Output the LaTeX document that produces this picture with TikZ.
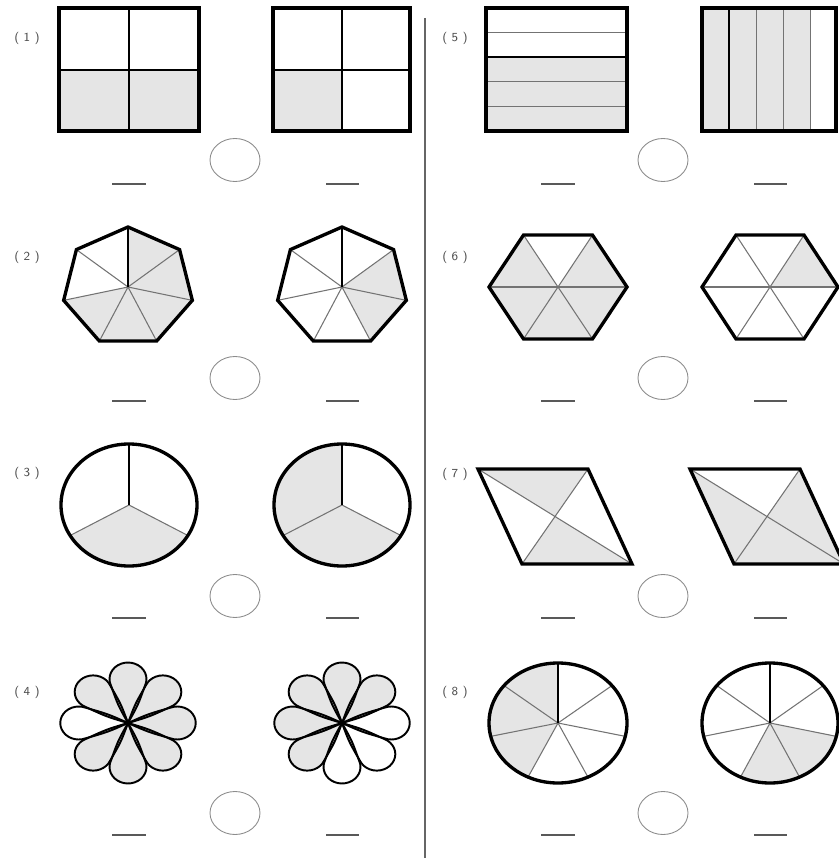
\documentclass[tikz,border=0pt]{standalone}
\usetikzlibrary{shapes.geometric}

% polygon cut into sectors: [first spoke]{cx}{cy}{rx}{ry}{sides}{start angle}{shaded sectors}
\newcommand{\polyfig}[8][spoke]{%
  \begin{scope}[shift={(#2,#3)}]
    \foreach \k in {#8}
      \fill[part] (0,0) -- ({#7-\k*360/#6}:#4 and #5) -- ({#7-(\k+1)*360/#6}:#4 and #5) -- cycle;
    \foreach \k in {1,...,#6}
      \draw[spoke] (0,0) -- ({#7-\k*360/#6}:#4 and #5);
    \draw[#1] (0,0) -- (#7:#4 and #5);
    \pgfmathtruncatemacro\lastk{#6-1}
    \draw[rim] (#7:#4 and #5) \foreach \k in {1,...,\lastk} { -- ({#7-\k*360/#6}:#4 and #5)} -- cycle;
  \end{scope}}

% oval cut into sectors: {cx}{cy}{rx}{ry}{parts}{shaded sectors}
\newcommand{\ovalfig}[6]{%
  \begin{scope}[shift={(#1,#2)}]
    \foreach \k in {#6}
      \fill[part] (0,0) -- ({90-\k*360/#5}:#3 and #4)
        arc[start angle={90-\k*360/#5}, delta angle={-360/#5}, x radius=#3, y radius=#4] -- cycle;
    \foreach \k in {1,...,#5}
      \draw[spoke] (0,0) -- ({90-\k*360/#5}:#3 and #4);
    \draw[mainspoke] (0,0) -- (90:#3 and #4);
    \draw[rim] (0,0) ellipse[x radius=#3, y radius=#4];
  \end{scope}}

% one petal pointing right, round end of radius 16.5
\newcommand{\petalpath}{(0,0) .. controls (18,9) .. (37.8,15.3) arc[start angle=112, end angle=-112, radius=16.5] .. controls (18,-9) .. (0,0) -- cycle}

% flower of eight petals: {cx}{cy}{shaded petal angles}
\newcommand{\flowerfig}[3]{%
  \begin{scope}[shift={(#1,#2)},xscale=1.12]
    \foreach \a in {#3}
      \fill[part,rotate=\a] \petalpath;
    \foreach \a in {0,45,...,315}
      \draw[petal,rotate=\a] \petalpath;
  \end{scope}}

\begin{document}
\begin{tikzpicture}[x=0.02cm,y=0.02cm,
  rim/.style={line width=1.9pt,line join=miter},
  part/.style={fill=black!10},
  spoke/.style={draw=black!55,line width=0.6pt},
  mainspoke/.style={draw=black,line width=1.1pt},
  petal/.style={draw=black,line width=1.1pt},
  answer/.style={draw=black!45,line width=0.5pt,ellipse,minimum width=1cm,minimum height=0.86cm,inner sep=0pt},
  blank/.style={draw=black!65,line width=1pt},
  num/.style={text=black!70,font=\fontsize{7}{8}\selectfont\sffamily,inner sep=0pt}]
  \useasboundingbox (0,0) rectangle (838,-858);
  \draw[black!60,line width=0.6pt] (425,-18) -- (425,-858);

  % question numbers
  \node[num] (lab1) at (27,-38) {( 1 )};
  \node[num] (lab2) at (27,-257) {( 2 )};
  \node[num] (lab3) at (27,-473) {( 3 )};
  \node[num] (lab4) at (27,-692) {( 4 )};
  \node[num] (lab5) at (455,-38) {( 5 )};
  \node[num] (lab6) at (455,-257) {( 6 )};
  \node[num] (lab7) at (455,-474) {( 7 )};
  \node[num] (lab8) at (455,-692) {( 8 )};

  % (1) squares
  \fill[part] (59,-70) rectangle (199,-131);
  \draw[mainspoke] (129,-8) -- (129,-131) (59,-70) -- (199,-70);
  \draw[rim] (59,-8) rectangle (199,-131);
  \fill[part] (273,-70) rectangle (342,-131);
  \draw[mainspoke] (342,-8) -- (342,-131) (273,-70) -- (410,-70);
  \draw[rim] (273,-8) rectangle (410,-131);

  % (5) strips
  \fill[part] (486,-57.2) rectangle (627,-131);
  \foreach \y in {32.6,81.8,106.4}
    \draw[spoke] (486,-\y) -- (627,-\y);
  \draw[mainspoke] (486,-57.2) -- (627,-57.2);
  \draw[rim] (486,-8) rectangle (627,-131);
  \fill[part] (702,-8) rectangle (810.8,-131);
  \foreach \x in {756.4,783.6,810.8}
    \draw[spoke] (\x,-8) -- (\x,-131);
  \draw[mainspoke] (729.2,-8) -- (729.2,-131);
  \draw[rim] (702,-8) rectangle (836,-131);

  % (2) heptagons and (6) hexagons
  \polyfig[mainspoke]{128}{-287}{66}{60}{7}{90}{0,1,2,3,4}
  \polyfig[mainspoke]{342}{-287}{66}{60}{7}{90}{1,2}
  \polyfig{558}{-287}{69}{60}{6}{0}{0,1,2,3,5}
  \polyfig{770}{-287}{68}{60}{6}{0}{5}

  % (3) and (8) ovals
  \ovalfig{129}{-505}{68}{61}{3}{1}
  \ovalfig{342}{-505}{68}{61}{3}{1,2}
  \ovalfig{558}{-723}{69}{60}{7}{4,5,6}
  \ovalfig{770}{-723}{68}{60}{7}{2,3}

  % (7) parallelograms
  \coordinate (p1) at (478,-469);
  \coordinate (p2) at (588,-469);
  \coordinate (p3) at (632,-564);
  \coordinate (p4) at (522,-564);
  \coordinate (po) at (555,-516.5);
  \fill[part] (p1) -- (p2) -- (po) -- cycle;
  \fill[part] (p4) -- (p3) -- (po) -- cycle;
  \draw[spoke] (p1) -- (p3) (p2) -- (p4);
  \draw[rim] (p1) -- (p2) -- (p3) -- (p4) -- cycle;
  \coordinate (q1) at (690,-469);
  \coordinate (q2) at (800,-469);
  \coordinate (q3) at (844,-564);
  \coordinate (q4) at (734,-564);
  \coordinate (qo) at (767,-516.5);
  \fill[part] (q1) -- (q4) -- (qo) -- cycle;
  \fill[part] (q4) -- (q3) -- (qo) -- cycle;
  \fill[part] (q2) -- (q3) -- (qo) -- cycle;
  \draw[spoke] (q1) -- (q3) (q2) -- (q4);
  \draw[rim] (q1) -- (q2) -- (q3) -- (q4) -- cycle;

  % (4) flowers
  \flowerfig{128}{-723}{0,45,90,135,225,270,315}
  \flowerfig{342}{-723}{45,90,135,180,225}

  % answer ovals and blanks
  \node[answer] (ans1) at (235,-160) {};
  \node[answer] (ans5) at (663,-160) {};
  \node[answer] (ans2) at (235,-378) {};
  \node[answer] (ans6) at (663,-378) {};
  \node[answer] (ans3) at (235,-596) {};
  \node[answer] (ans7) at (663,-596) {};
  \node[answer] (ans4) at (235,-813) {};
  \node[answer] (ans8) at (663,-813) {};
  \foreach \y in {184,401,618,835}
    \draw[blank] (112,-\y) -- (146,-\y) (326,-\y) -- (359,-\y) (541,-\y) -- (575,-\y) (754,-\y) -- (787,-\y);
\end{tikzpicture}
\end{document}
